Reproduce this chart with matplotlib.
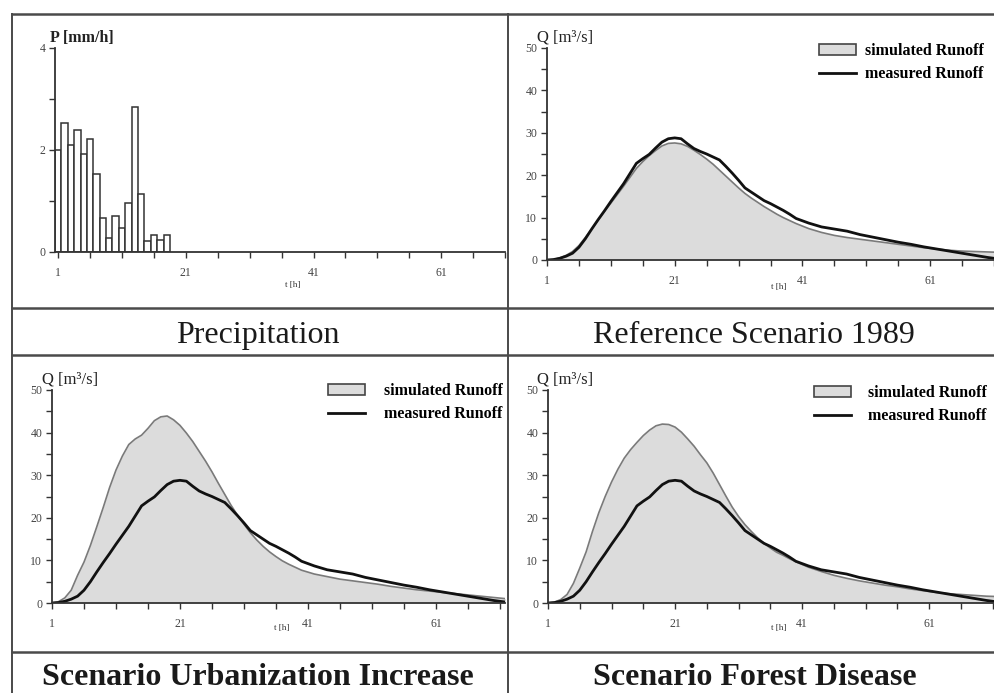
import matplotlib
matplotlib.use("Agg")
import matplotlib.pyplot as plt
from matplotlib.lines import Line2D
from matplotlib.patches import Patch

plt.rcParams["font.family"] = ["Liberation Serif", "DejaVu Serif"]

W, H = 994, 693

# hourly precipitation [mm/h]
rain_hours = list(range(1, 19))
rain_mm_h = [2.0, 2.52, 2.09, 2.40, 1.92, 2.21, 1.52, 0.66, 0.27,
             0.71, 0.48, 0.97, 2.85, 1.14, 0.21, 0.34, 0.24, 0.34]

# runoff hydrographs [m³/s]
hours = [1, 2, 3, 4, 5, 6, 7, 8, 9, 10, 11, 12, 13, 14, 15, 16, 17, 18, 19, 20,
         21, 22, 23, 24, 25, 26, 27, 28, 29, 30, 31, 32, 33, 34, 35, 36, 37, 38, 39, 40,
         42, 44, 46, 48, 50, 52, 54, 56, 58, 60, 62, 64, 66, 68, 70, 72]
q_measured = [0, 0.1, 0.4, 0.9, 1.6, 3.0, 5.0, 7.3, 9.5, 11.6, 13.8, 15.9, 18.0, 20.4, 22.8,
              23.9, 24.9, 26.4, 27.8, 28.6, 28.8, 28.6, 27.4, 26.3, 25.6, 25.0, 24.3, 23.6,
              22.1, 20.5, 18.8, 17.0, 16.0, 15.0, 14.0, 13.3, 12.5, 11.7, 10.8, 9.8,
              8.7, 7.8, 7.3, 6.8, 6.0, 5.4, 4.8, 4.2, 3.7, 3.1, 2.6, 2.1, 1.6, 1.1, 0.6, 0.2]
q_reference = [0, 0.1, 0.5, 1.1, 2.0, 3.4, 5.3, 7.3, 9.4, 11.5, 13.4, 15.4, 17.4, 19.5, 21.6,
               23.2, 24.6, 25.8, 26.9, 27.5, 27.6, 27.4, 26.8, 25.9, 24.9, 23.8, 22.6, 21.2,
               19.8, 18.4, 17.0, 15.7, 14.6, 13.6, 12.6, 11.7, 10.8, 10.0, 9.3, 8.6,
               7.4, 6.5, 5.8, 5.3, 4.9, 4.5, 4.1, 3.7, 3.3, 2.9, 2.6, 2.3, 2.1, 2.0, 1.9, 1.8]
q_urban = [0, 0.3, 1.2, 3.0, 6.5, 9.6, 13.5, 17.9, 22.4, 27.1, 31.2, 34.5, 37.2, 38.5, 39.4,
           41.0, 42.8, 43.7, 43.9, 43.0, 41.7, 39.9, 37.9, 35.6, 33.3, 30.8, 28.1, 25.5,
           22.9, 20.6, 18.5, 16.5, 14.8, 13.3, 12.0, 10.9, 9.9, 9.1, 8.4, 7.7,
           6.8, 6.2, 5.6, 5.2, 4.8, 4.4, 3.9, 3.5, 3.1, 2.8, 2.5, 2.2, 1.9, 1.6, 1.3, 1.0]
q_forest = [0, 0.2, 0.8, 2.0, 4.6, 8.2, 12.0, 16.8, 21.2, 25.0, 28.4, 31.4, 34.0, 36.0, 37.7,
            39.3, 40.6, 41.6, 42.0, 41.9, 41.3, 40.1, 38.5, 36.8, 34.8, 32.9, 30.5, 27.8,
            25.1, 22.5, 20.3, 18.4, 16.8, 15.3, 14.0, 12.9, 11.9, 11.2, 10.4, 9.7,
            8.4, 7.4, 6.5, 5.8, 5.2, 4.7, 4.2, 3.8, 3.3, 2.9, 2.5, 2.2, 2.0, 1.8, 1.6, 1.5]

x_major = [1, 21, 41, 61]
x_minor = [6, 11, 16, 26, 31, 36, 46, 51, 56, 66, 71]

EDGE = "#333333"
FRAME = "#4a4a4a"
FILL = "#dcdcdc"
SIM_LINE = "#7a7a7a"


def fx(x):
    return x / W


def fy(y):
    return 1 - y / H


def add_axes_px(fig, left, right, y_zero, y_top):
    return fig.add_axes([fx(left), fy(y_zero), (right - left) / W, (y_zero - y_top) / H])


def style(ax, xlim, ymax, ymajor, yminor):
    for s in ("top", "right"):
        ax.spines[s].set_visible(False)
    for s in ("left", "bottom"):
        ax.spines[s].set_color(EDGE)
        ax.spines[s].set_linewidth(1.3)
    ax.set_xlim(*xlim)
    ax.set_ylim(0, ymax)
    ax.set_xticks(x_major)
    ax.set_xticks(x_minor, minor=True)
    ax.set_yticks(range(0, ymax + 1, ymajor))
    ax.set_yticks([v for v in range(0, ymax + 1, yminor) if v % ymajor], minor=True)
    ax.tick_params(which="both", direction="out", length=4, width=1, color=EDGE,
                   labelsize=8.5, labelcolor="#444444")
    ax.tick_params(axis="x", pad=7)
    ax.tick_params(axis="y", pad=3)
    ax.patch.set_alpha(0)


def runoff(ax, q_sim, legend_at, textpad):
    ax.fill_between(hours, q_sim, 0, color=FILL, lw=0)
    ax.plot(hours, q_sim, color=SIM_LINE, lw=1.2)
    ax.plot(hours, q_measured, color="#111111", lw=2)
    handles = [Patch(facecolor=FILL, edgecolor="#444444", linewidth=1.2),
               Line2D([], [], color="#111111", lw=2)]
    ax.legend(handles, ["simulated Runoff", "measured Runoff"], loc="upper left",
              bbox_to_anchor=(fx(legend_at[0]), fy(legend_at[1])),
              bbox_transform=ax.figure.transFigure, frameon=False, borderpad=0,
              borderaxespad=0, handlelength=2.3, handletextpad=textpad,
              labelspacing=0.45, prop={"size": 11.5, "weight": "bold"})


fig = plt.figure(figsize=(W / 100, H / 100), dpi=100)

# panel frames and caption boxes
frame_h = [(14, 12, W), (308, 12, W), (355, 12, W), (652, 12, W)]
frame_v = [(12, 14, H), (508, 14, H)]
for y, x0, x1 in frame_h:
    fig.add_artist(Line2D([fx(x0), fx(x1)], [fy(y), fy(y)], color=FRAME, lw=1.8))
for x, y0, y1 in frame_v:
    fig.add_artist(Line2D([fx(x), fx(x)], [fy(y0), fy(y1)], color=FRAME, lw=1.4))

# precipitation
ax = add_axes_px(fig, 55, 505, 252, 48)
ax.bar(rain_hours, rain_mm_h, width=1, color="white", edgecolor=EDGE, linewidth=1.1)
style(ax, (0.5, 69.2), 4, 2, 1)
fig.text(fx(50), fy(38), "P [mm/h]", fontsize=11.5, fontweight="bold", color="#222222",
         va="center")
fig.text(fx(293), fy(285), "t [h]", fontsize=6.5, color="#333333", ha="center", va="center")

# reference scenario
ax = add_axes_px(fig, 547, 994, 260, 48)
runoff(ax, q_reference, (819, 43), 0.6)
style(ax, (1, 70.8), 50, 10, 5)
fig.text(fx(537), fy(37), "Q [m³/s]", fontsize=12, color="#222222", va="center")
fig.text(fx(779), fy(287), "t [h]", fontsize=6.5, color="#333333", ha="center", va="center")

# urbanization
ax = add_axes_px(fig, 52, 505, 603, 390)
runoff(ax, q_urban, (328, 383), 1.2)
style(ax, (1, 71.8), 50, 10, 5)
fig.text(fx(42), fy(380), "Q [m³/s]", fontsize=12, color="#222222", va="center")
fig.text(fx(282), fy(628), "t [h]", fontsize=6.5, color="#333333", ha="center", va="center")

# forest disease
ax = add_axes_px(fig, 548, 994, 603, 390)
runoff(ax, q_forest, (814, 385), 1.1)
style(ax, (1, 71.2), 50, 10, 5)
fig.text(fx(537), fy(380), "Q [m³/s]", fontsize=12, color="#222222", va="center")
fig.text(fx(779), fy(628), "t [h]", fontsize=6.5, color="#333333", ha="center", va="center")

# captions
captions = ["Precipitation", "Reference Scenario 1989",
            "Scenario Urbanization Increase", "Scenario Forest Disease"]
cap_pos = [(258, 343, "normal"), (754, 343, "normal"), (258, 685, "bold"), (755, 685, "bold")]
for text, (x, y, weight) in zip(captions, cap_pos):
    fig.text(fx(x), fy(y), text, fontsize=23, fontweight=weight, color="#1a1a1a",
             ha="center", va="baseline")

fig.savefig("out.png", dpi=100)
